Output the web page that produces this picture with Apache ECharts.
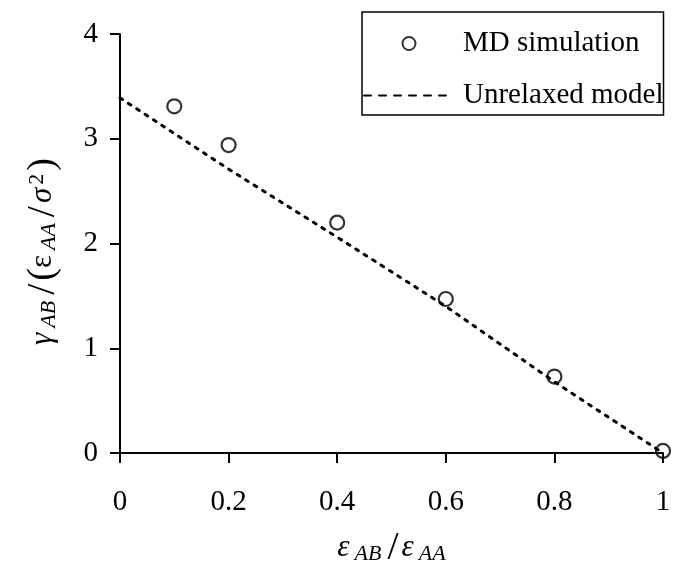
<!DOCTYPE html>
<html>
<head>
<meta charset="utf-8">
<script src="https://cdn.jsdelivr.net/npm/echarts@6/dist/echarts.min.js"></script>
<style>html,body{margin:0;padding:0;background:#fff;}#c{width:675px;height:563px;}</style>
</head>
<body>
<div id="c"></div>
<script>
const mdX = [0.1, 0.2, 0.4, 0.6, 0.8, 1.0];
const mdY = [3.31, 2.94, 2.20, 1.47, 0.73, 0.02];
const modelX = [0, 0.1, 0.2, 0.4, 0.6, 0.8, 1.0];
const modelY = [3.39, 3.05, 2.71, 2.06, 1.40, 0.68, 0.0];
const xTicks = [0, 0.2, 0.4, 0.6, 0.8, 1];
const yTicks = [0, 1, 2, 3, 4];
const seriesNames = ['MD simulation', 'Unrelaxed model'];

const FONT = '"Liberation Serif", "DejaVu Serif", serif';
const chart = echarts.init(document.getElementById('c'), null, {renderer: 'canvas'});

const richBase = {
  m: {fontFamily: FONT, fontSize: 31, lineHeight: 34, color: '#000'},
  mi: {fontFamily: FONT, fontSize: 31, fontStyle: 'italic', lineHeight: 34, color: '#000'},
  par: {fontFamily: FONT, fontSize: 38, lineHeight: 34, color: '#000'},
  parEnd: {fontFamily: FONT, fontSize: 38, lineHeight: 34, color: '#000', padding: [0, 16, 0, 0]},
  sl: {fontFamily: FONT, fontSize: 40, lineHeight: 34, color: '#000', padding: [0, 3, 0, 6]},
  sub: {fontFamily: FONT, fontSize: 22, fontStyle: 'italic', lineHeight: 12, verticalAlign: 'bottom', color: '#000', padding: [0, 0, 0, 5]},
  sup: {fontFamily: FONT, fontSize: 22, lineHeight: 12, verticalAlign: 'top', color: '#000', padding: [0, 3, 0, 3]}
};

chart.setOption({
  backgroundColor: '#fff',
  animation: false,
  grid: {left: 120, right: 12, top: 34, bottom: 110, containLabel: false, outerBoundsMode: 'none'},
  legend: {
    left: 362, top: 12,
    orient: 'vertical',
    borderColor: '#000', borderWidth: 1.5,
    padding: [17, 0, 5, 1],
    itemGap: 23,
    itemWidth: 90, itemHeight: 13,
    textStyle: {fontFamily: FONT, fontSize: 29, color: '#000', padding: [0, 0, 0, 4]},
    data: [
      {name: seriesNames[0], icon: 'circle', itemStyle: {color: 'transparent', borderColor: '#000', borderWidth: 2}},
      {name: seriesNames[1], itemStyle: {color: 'transparent', borderColor: 'transparent', borderWidth: 0},
       lineStyle: {type: [7, 8], width: 2, color: '#000'}}
    ]
  },
  xAxis: {
    type: 'value', min: 0, max: 1, interval: 0.2,
    axisLine: {show: true, onZero: false, lineStyle: {color: '#000', width: 2}},
    axisTick: {show: true, inside: false, length: 10, lineStyle: {color: '#000', width: 2}},
    splitLine: {show: false},
    axisLabel: {fontFamily: FONT, fontSize: 29, color: '#000', margin: 35,
      formatter: v => { const t = xTicks.find(k => Math.abs(k - v) < 1e-9); return t === undefined ? '' : String(t); }},
    nameLocation: 'middle', nameGap: 78,
    name: '{mi|ε}{sub|AB}{sl|/}{mi|ε}{sub|AA}',
    nameTextStyle: {rich: richBase}
  },
  yAxis: {
    type: 'value', min: 0, max: 4, interval: 1,
    axisLine: {show: true, onZero: false, lineStyle: {color: '#000', width: 2}},
    axisTick: {show: true, inside: false, length: 10, lineStyle: {color: '#000', width: 2}},
    splitLine: {show: false},
    axisLabel: {fontFamily: FONT, fontSize: 29, color: '#000', margin: 22,
      formatter: v => { const t = yTicks.find(k => Math.abs(k - v) < 1e-9); return t === undefined ? '' : String(t); }},
    nameLocation: 'middle', nameGap: 60,
    name: '{mi|γ}{sub|AB}{sl|/}{par|(}{m|ε}{sub|AA}{sl|/}{mi|σ}{sup|2}{parEnd|)}',
    nameTextStyle: {rich: richBase}
  },
  series: [
    {
      name: seriesNames[0], type: 'scatter', z: 3,
      symbol: 'circle', symbolSize: 14,
      itemStyle: {color: 'transparent', borderColor: '#000', borderWidth: 2.2},
      data: mdX.map((x, i) => [x, mdY[i]])
    },
    {
      name: seriesNames[1], type: 'line', z: 2,
      showSymbol: false, symbol: 'none',
      itemStyle: {color: '#000'},
      lineStyle: {color: '#000', width: 3, type: [3, 7], cap: 'round'},
      data: modelX.map((x, i) => [x, modelY[i]])
    }
  ]
});
</script>
</body>
</html>
